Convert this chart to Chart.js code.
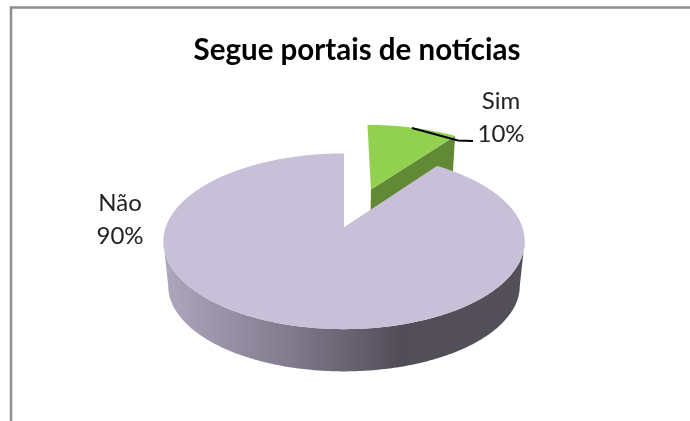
<!DOCTYPE html>
<html><head><meta charset="utf-8">
<style>html,body{margin:0;padding:0;background:#fff}canvas{display:block}</style>
<script src="https://cdn.jsdelivr.net/npm/chart.js@4"></script>
</head><body><canvas id="c" width="690" height="421"></canvas>
<script>
const chartTitle = 'Segue portais de notícias';
const categories = ['Sim', 'Não'];
const values = [10, 90];
const explode = [0.5, 0];
const topColors = ['#92D050', '#C8BFD9'];
const wallColors = ['#628A36', '#53505A'];
const labelAnchors = [[501, 101, 134], [120, 203, 236]];

const SX = 1.1225, SY = 0.539, K = 0.159, DEPTH = 45, SHRINK = 0.973, DX = -13, EX_TWIST = 0.008;

class Pie3DController extends Chart.PieController {
  static id = 'pie3d';
  draw() {
    const ctx = this.chart.ctx, arcs = this.getMeta().data;
    const proj = (arc, i, X, Y, low) => {
      const e = explode[i], mid = (arc.startAngle + arc.endAngle) / 2 + Math.PI / 2;
      const xx = X + e * Math.sin(mid) + (e ? EX_TWIST : 0), yy = Y + e * Math.cos(mid);
      const den = 1 + K * yy, a = arc.outerRadius * SX, b = arc.outerRadius * SY;
      let u = a * xx / den, v = -b * yy / den;
      if (low) { u *= SHRINK; v = v * SHRINK + DEPTH; }
      return [arc.x + DX + u, arc.y + v];
    };
    const onRim = (arc, i, t, low) => proj(arc, i, Math.sin(t), Math.cos(t), low);
    const poly = (pts, fill) => {
      ctx.beginPath();
      pts.forEach((p, n) => n ? ctx.lineTo(p[0], p[1]) : ctx.moveTo(p[0], p[1]));
      ctx.closePath(); ctx.fillStyle = fill; ctx.fill();
    };
    const top = (arc, i) => {
      const s = arc.startAngle + Math.PI / 2, t = arc.endAngle + Math.PI / 2, pts = [proj(arc, i, 0, 0, false)];
      for (let n = 0; n <= 240; n++) pts.push(onRim(arc, i, s + (t - s) * n / 240, false));
      poly(pts, arc.options.backgroundColor);
    };
    ctx.save();
    // exploded slice: cut face then top
    arcs.forEach((arc, i) => {
      if (!explode[i]) return;
      const t = arc.endAngle + Math.PI / 2;
      poly([proj(arc, i, 0, 0, false), onRim(arc, i, t, false), onRim(arc, i, t, true), proj(arc, i, 0, 0, true)], wallColors[i]);
      top(arc, i);
    });
    // main slice: curved front wall then top
    arcs.forEach((arc, i) => {
      if (explode[i]) return;
      const sil = Math.acos(-K), pts = [], back = [];
      for (let n = 0; n <= 240; n++) {
        const ang = sil + (2 * Math.PI - 2 * sil) * n / 240;
        pts.push(onRim(arc, i, ang, false)); back.unshift(onRim(arc, i, ang, true));
      }
      const g = ctx.createLinearGradient(166, 0, 520, 0);
      g.addColorStop(0, '#AEA6BC'); g.addColorStop(0.38, '#7E7689'); g.addColorStop(0.66, '#524E58'); g.addColorStop(1, '#53505A');
      poly(pts.concat(back), g);
      top(arc, i);
    });
    ctx.restore();
  }
}
Chart.register(Pie3DController);

const overlay = {
  id: 'overlay',
  beforeDatasetsDraw(chart) {
    const c = chart.ctx;
    c.save();
    c.strokeStyle = '#8E8E8E'; c.lineWidth = 2.5;
    c.beginPath(); c.moveTo(11, 421); c.lineTo(11, 7.5); c.lineTo(690, 7.5); c.stroke();
    c.restore();
  },
  afterDatasetsDraw(chart) {
    const c = chart.ctx;
    c.save();
    c.strokeStyle = '#000'; c.lineWidth = 2;
    c.beginPath(); c.moveTo(412, 128); c.lineTo(458, 140.5); c.lineTo(473, 141); c.stroke();
    c.fillStyle = '#222'; c.font = '24px Lato'; c.textAlign = 'center'; c.textBaseline = 'middle';
    const total = values.reduce((p, q) => p + q, 0);
    categories.forEach((name, i) => {
      const [x, y1, y2] = labelAnchors[i];
      c.fillText(name, x, y1);
      c.fillText(Math.round(values[i] / total * 100) + '%', x, y2);
    });
    c.restore();
  }
};

new Chart(document.getElementById('c'), {
  type: 'pie3d',
  data: { labels: categories, datasets: [{ data: values, backgroundColor: topColors, borderWidth: 0 }] },
  options: {
    responsive: false, animation: false, rotation: 0,
    layout: { padding: { left: 24, right: 0, top: 0, bottom: 34.8 } },
    plugins: {
      legend: { display: false }, tooltip: { enabled: false },
      title: { display: true, text: chartTitle, color: '#000', font: { family: 'Lato', size: 29.5, weight: 'bold' }, padding: { top: 33, bottom: 0 } }
    }
  },
  plugins: [overlay]
});
</script></body></html>
